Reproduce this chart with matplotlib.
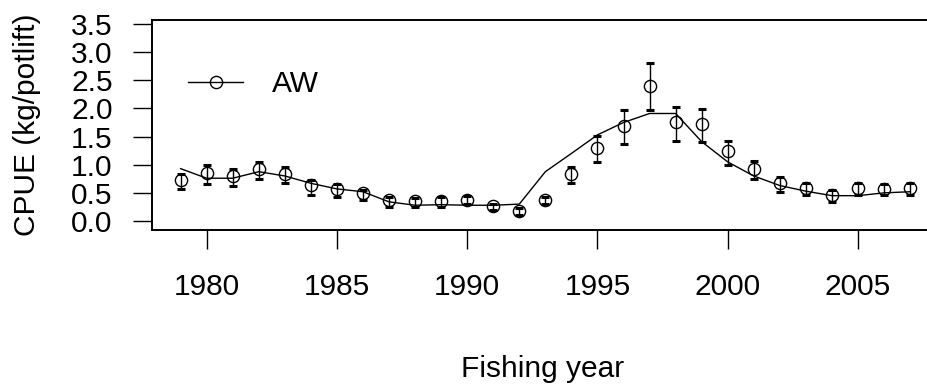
import matplotlib
matplotlib.use("Agg")
import matplotlib.pyplot as plt
import numpy as np

plt.rcParams['font.family'] = ['Liberation Sans', 'DejaVu Sans']

years = list(range(1979, 2008))
cpue = [0.72, 0.86, 0.80, 0.92, 0.835, 0.64, 0.57, 0.49, 0.37, 0.35,
        0.355, 0.38, 0.26, 0.18, 0.37, 0.835, 1.29, 1.69, 2.40, 1.75,
        1.72, 1.24, 0.92, 0.67, 0.59, 0.46, 0.59, 0.57, 0.59]
lower = [0.57, 0.66, 0.62, 0.75, 0.67, 0.47, 0.42, 0.37, 0.24, 0.25,
         0.25, 0.30, 0.20, 0.11, 0.31, 0.67, 1.04, 1.37, 1.97, 1.42,
         1.41, 0.99, 0.75, 0.52, 0.47, 0.34, 0.46, 0.46, 0.46]
upper = [0.83, 0.99, 0.92, 1.05, 0.965, 0.72, 0.65, 0.55, 0.43, 0.41,
         0.42, 0.44, 0.31, 0.23, 0.43, 0.965, 1.51, 1.98, 2.81, 2.03,
         1.99, 1.42, 1.07, 0.79, 0.67, 0.55, 0.68, 0.66, 0.68]
fitted = [0.93, 0.76, 0.76, 0.876, 0.80, 0.67, 0.57, 0.52, 0.34, 0.28,
          0.29, 0.28, 0.28, 0.30, 0.876, 1.20, 1.53, 1.75, 1.91, 1.91,
          1.41, 1.05, 0.80, 0.63, 0.53, 0.45, 0.45, 0.50, 0.52]
xticks = [1980, 1985, 1990, 1995, 2000, 2005]
yticks = [0.0, 0.5, 1.0, 1.5, 2.0, 2.5, 3.0, 3.5]
series_name = "AW"

FS = 21.5
W, H = 928, 387
fig = plt.figure(figsize=(W / 100, H / 100), dpi=100)
# plot region in pixels; the right edge sits just past the figure border
left, right, bottom, top = 151.7, 933.0, 229.5, 20.0
ax = fig.add_axes([left / W, (H - bottom) / H, (right - left) / W, (bottom - top) / H])

y = np.array(cpue)
yerr = np.vstack([y - np.array(lower), np.array(upper) - y])

ax.plot(years, fitted, color='black', lw=1.0, zorder=2)
ax.errorbar(years, cpue, yerr=yerr, fmt='none', ecolor='black', elinewidth=1.0,
            capsize=3, capthick=2.2, zorder=3)
ax.plot(years, cpue, 'o', ms=8.8, mfc='none', mec='black', mew=1.0, zorder=4)

# legend entry: line with open circle
ax.plot([], [], '-o', color='black', lw=1.0, ms=8.8, mfc='none', mew=1.0, label=series_name)
ax.legend(loc='center left', bbox_to_anchor=(0.0465, 0.6945), frameon=False,
          fontsize=FS, handlelength=1.84, handletextpad=0.97, borderpad=0,
          borderaxespad=0)

ax.set_xlim(1977.89, 2007.88)
ax.set_ylim(-0.151, 3.571)
ax.set_xticks(xticks)
ax.set_yticks(yticks)
ax.set_yticklabels([f"{v:.1f}" for v in yticks])

for s in ['left', 'bottom', 'top', 'right']:
    ax.spines[s].set_linewidth(1.4)

ax.tick_params(axis='both', direction='out', length=13.7, width=1.0, labelsize=FS,
               color='black')
ax.tick_params(axis='x', pad=17.6)
ax.tick_params(axis='y', pad=14.4)

fig.text(542.5 / W, (H - 376.7) / H, "Fishing year", fontsize=FS,
         ha='center', va='baseline')
fig.text(41 / W, (H - 124.75) / H, "CPUE (kg/potlift)", fontsize=FS,
         rotation=90, ha='right', va='center')

fig.savefig("out.png", dpi=100)
